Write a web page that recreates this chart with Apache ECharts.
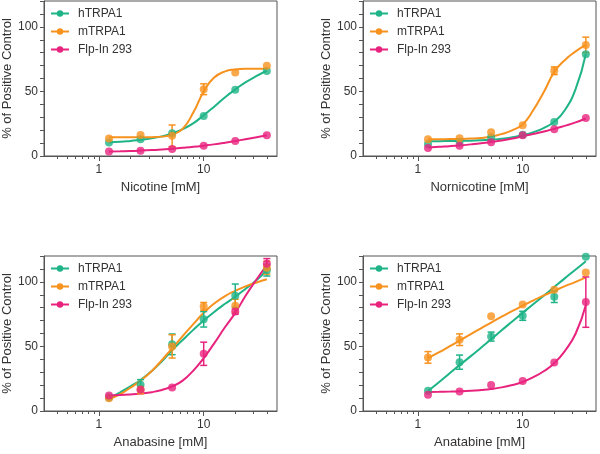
<!DOCTYPE html>
<html>
<head>
<meta charset="utf-8">
<title>TRPA1 concentration response</title>
<script src="https://cdn.jsdelivr.net/npm/echarts@6/dist/echarts.min.js"></script>
<style>
  html, body { margin: 0; padding: 0; background: #fff; }
  #chart { width: 600px; height: 454px; }
</style>
</head>
<body>
<div id="chart"></div>
<script>
// concentrations (mM)
var conc = [1.25, 2.5, 5, 10, 20, 40]
var fitConc = [1.25, 1.6, 2, 2.5, 3.2, 4, 5, 6.3, 8, 10, 12.5, 16, 20, 25, 32, 40]
var majorTicks = [1, 10]
var minorTicks = [0.4, 0.5, 0.6, 0.7, 0.8, 0.9, 2, 3, 4, 5, 6, 7, 8, 9, 20, 30, 40]

var compounds = ['Nicotine', 'Nornicotine', 'Anabasine', 'Anatabine']
var cellLines = ['hTRPA1', 'mTRPA1', 'Flp-In 293']

// Nicotine
var nicotineH = [10.4, 12.9, 17.6, 31, 51.2, 65.9]
var nicotineM = [13.5, 16.3, 15.6, 51.7, 64.6, 69.8]
var nicotineF = [3.4, 4.1, 5.4, 8, 11.7, 16]
var nicotineHErr = [0, 0, 0, 0, 0, 0]
var nicotineMErr = [0, 0, 8.4, 4.2, 0, 0]
var nicotineFErr = [0, 0, 0, 0, 0, 0]
var nicotineHFit = [10.5, 11, 11.7, 12.5, 13.7, 15.2, 17.5, 20.8, 25.5, 31.5, 38, 45.5, 51.5, 57, 62, 66]
var nicotineMFit = [14.5, 14.5, 14.5, 14.5, 14.6, 15, 16.5, 21, 34, 50, 60.5, 65.5, 67, 67.5, 67.5, 67.5]
var nicotineFFit = [3.5, 3.7, 3.9, 4.2, 4.6, 5, 5.6, 6.3, 7.1, 8, 9, 10.3, 11.6, 13, 14.6, 16]

// Nornicotine
var nornicotineH = [9.3, 11.1, 14.5, 16.5, 26.4, 78.8]
var nornicotineM = [13, 13.7, 18.3, 23.8, 66, 86]
var nornicotineF = [6.2, 8, 10.6, 16, 20.7, 29.5]
var nornicotineHErr = [0, 0, 0, 0, 0, 0]
var nornicotineMErr = [0, 0, 0, 0, 3, 6]
var nornicotineFErr = [0, 0, 0, 0, 0, 0]
var nornicotineHFit = [11.5, 11.5, 11.6, 11.7, 11.9, 12.2, 12.6, 13.3, 14.5, 16, 18.3, 21.8, 26.5, 35, 52, 79]
var nornicotineMFit = [13, 13, 13.1, 13.2, 13.5, 14, 15, 17, 20, 24.5, 35, 50, 65, 74, 81, 86]
var nornicotineFFit = [6.5, 7.1, 7.6, 8.2, 9, 9.8, 10.8, 12, 13.6, 15.3, 17, 19, 21, 23.3, 26, 29]

// Anabasine
var anabasineH = [10.4, 20.3, 51.6, 71, 89.3, 109]
var anabasineM = [9.9, 16.4, 50, 81, 81.5, 111]
var anabasineF = [12, 16.4, 18.2, 44.3, 77, 114]
var anabasineHErr = [0, 4, 8, 6, 9, 4.5]
var anabasineMErr = [0, 3, 9, 3, 5, 5]
var anabasineFErr = [0, 0, 0, 9, 2, 4]
var anabasineHFit = [10, 14.5, 19, 24, 31, 38.5, 47, 55, 63, 70, 76.5, 83, 88.5, 94.5, 101.5, 109]
var anabasineMFit = [9, 13, 18, 23.5, 31, 39.5, 48.5, 58, 67.5, 76, 83, 89, 93, 96.5, 99.5, 102]
var anabasineFFit = [12, 12.3, 12.8, 13.5, 14.6, 16.3, 19, 23.5, 31.5, 41, 52, 65, 76, 89, 102, 113]

// Anatabine
var anatabineH = [15.6, 37.8, 57.6, 73.7, 88.5, 119.5]
var anatabineM = [41.5, 55.2, 73.3, 82.4, 93.8, 107.3]
var anatabineF = [12.5, 15.1, 20.1, 23.2, 37.5, 84.3]
var anatabineHErr = [0, 5.5, 3.5, 3.5, 4.5, 0]
var anatabineMErr = [4.5, 4.5, 0, 0, 0, 0]
var anatabineFErr = [0, 0, 0, 0, 0, 19.5]
var anatabineHFit = [15.5, 22.5, 29, 35.5, 42.5, 49, 55.5, 62.5, 69.5, 76, 82.5, 89.5, 96, 102.5, 109.5, 116]
var anatabineMFit = [41, 45.5, 50, 54.5, 59.5, 64, 68.5, 73, 77.5, 81.5, 85.5, 89.5, 93, 96.5, 100, 103.5]
var anatabineFFit = [14.8, 14.9, 15, 15.2, 15.6, 16.2, 17, 18.3, 20.2, 22.5, 26, 31, 37, 46, 60, 82]

var panels = [
  { points: [nicotineH, nicotineM, nicotineF], errs: [nicotineHErr, nicotineMErr, nicotineFErr], fits: [nicotineHFit, nicotineMFit, nicotineFFit] },
  { points: [nornicotineH, nornicotineM, nornicotineF], errs: [nornicotineHErr, nornicotineMErr, nornicotineFErr], fits: [nornicotineHFit, nornicotineMFit, nornicotineFFit] },
  { points: [anabasineH, anabasineM, anabasineF], errs: [anabasineHErr, anabasineMErr, anabasineFErr], fits: [anabasineHFit, anabasineMFit, anabasineFFit] },
  { points: [anatabineH, anatabineM, anatabineF], errs: [anatabineHErr, anatabineMErr, anatabineFErr], fits: [anatabineHFit, anatabineMFit, anatabineFFit] }
]

var colors = ['#1fb487', '#f7921e', '#e8237e']
var axisColor = '#555'
var textColor = '#333'
var font = 'Liberation Sans, Arial, sans-serif'

var gridPos = [
  { left: 44, top: 1 },
  { left: 363, top: 1 },
  { left: 44, top: 256 },
  { left: 363, top: 256 }
]

var chart = echarts.init(document.getElementById('chart'))

var grids = []
var xAxes = []
var yAxes = []
var legends = []
var series = []

function zip (xs, ys) {
  return xs.map(function (x, i) { return [x, ys[i]] })
}

gridPos.forEach(function (g, p) {
  grids.push({
    left: g.left,
    top: g.top,
    width: 233,
    height: 155,
    show: true,
    borderColor: axisColor,
    borderWidth: 1
  })
  // main x axis (major ticks + labels)
  xAxes.push({
    gridIndex: p,
    type: 'log',
    logBase: 10,
    min: 0.3,
    max: 50,
    name: compounds[p] + ' [mM]',
    nameLocation: 'middle',
    nameGap: 25,
    nameTextStyle: { color: textColor, fontSize: 13, fontFamily: font },
    axisLine: { show: true, lineStyle: { color: axisColor, width: 1 } },
    axisTick: { show: true, length: 5, customValues: majorTicks, lineStyle: { color: axisColor } },
    axisLabel: { show: true, customValues: majorTicks, margin: 8, color: textColor, fontSize: 12, fontFamily: font },
    splitLine: { show: false }
  })
  // second x axis only for the minor log ticks
  xAxes.push({
    gridIndex: p,
    type: 'log',
    logBase: 10,
    min: 0.3,
    max: 50,
    position: 'bottom',
    axisLine: { show: false },
    axisTick: { show: true, length: 3, customValues: minorTicks, lineStyle: { color: axisColor } },
    axisLabel: { show: false },
    splitLine: { show: false }
  })
  yAxes.push({
    gridIndex: p,
    type: 'value',
    min: 0,
    max: 120,
    interval: 10,
    name: '% of Positive Control',
    nameLocation: 'middle',
    nameGap: 26,
    nameTextStyle: { color: textColor, fontSize: 13, fontFamily: font },
    axisLine: { show: true, lineStyle: { color: axisColor, width: 1 } },
    axisTick: { show: true, length: 4, lineStyle: { color: axisColor } },
    axisLabel: {
      margin: 6,
      color: textColor,
      fontSize: 12,
      fontFamily: font,
      formatter: function (v) { return v % 50 === 0 ? v : '' }
    },
    splitLine: { show: false }
  })
  legends.push({
    left: g.left + 1,
    top: g.top + 1.5,
    orient: 'vertical',
    itemWidth: 18,
    itemHeight: 8,
    itemGap: 6,
    data: cellLines,
    textStyle: { color: textColor, fontSize: 12, fontFamily: font, padding: [0, 0, 0, 4] },
    selectedMode: false
  })

  var panel = panels[p]
  cellLines.forEach(function (name, k) {
    // fitted curve
    series.push({
      name: name,
      type: 'line',
      xAxisIndex: p * 2,
      yAxisIndex: p,
      data: zip(fitConc, panel.fits[k]),
      smooth: true,
      symbol: 'circle',
      symbolSize: 7,
      showSymbol: false,
      color: colors[k],
      lineStyle: { color: colors[k], width: 2 },
      silent: true,
      z: 2
    })
    // error bars
    series.push({
      name: name + ' err',
      type: 'custom',
      xAxisIndex: p * 2,
      yAxisIndex: p,
      data: conc.map(function (c, i) { return [c, panel.points[k][i], panel.errs[k][i]] }),
      renderItem: function (params, api) {
        var e = api.value(2)
        if (!(e > 0)) return null
        var x = api.value(0)
        var y = api.value(1)
        var top = api.coord([x, y + e])
        var bot = api.coord([x, y - e])
        var w = 3.5
        var st = { stroke: colors[k], lineWidth: 1.5 }
        return {
          type: 'group',
          children: [
            { type: 'line', shape: { x1: top[0], y1: top[1], x2: bot[0], y2: bot[1] }, style: st },
            { type: 'line', shape: { x1: top[0] - w, y1: top[1], x2: top[0] + w, y2: top[1] }, style: st },
            { type: 'line', shape: { x1: bot[0] - w, y1: bot[1], x2: bot[0] + w, y2: bot[1] }, style: st }
          ]
        }
      },
      silent: true,
      z: 3
    })
    // measured points
    series.push({
      name: name + ' pts',
      type: 'scatter',
      xAxisIndex: p * 2,
      yAxisIndex: p,
      data: zip(conc, panel.points[k]),
      symbol: 'circle',
      symbolSize: 8,
      itemStyle: { color: colors[k] },
      silent: true,
      z: 4
    })
  })
})

var option = {
  animation: false,
  backgroundColor: '#fff',
  grid: grids,
  xAxis: xAxes,
  yAxis: yAxes,
  legend: legends,
  series: series
}
chart.setOption(option)
</script>
</body>
</html>
